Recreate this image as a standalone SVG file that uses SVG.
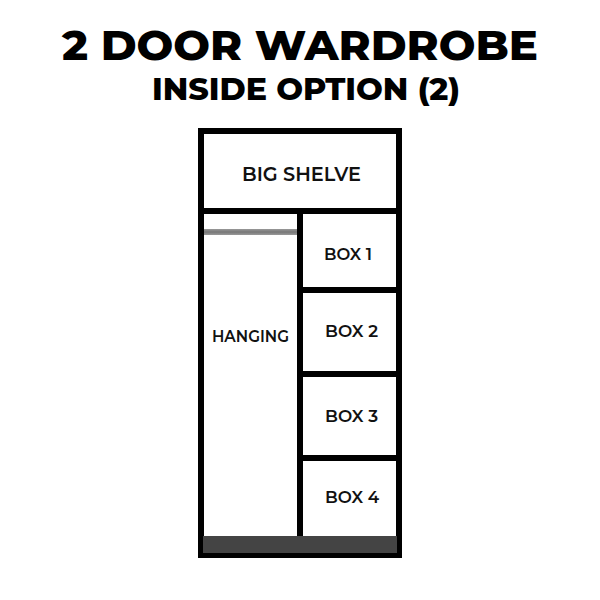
<svg xmlns="http://www.w3.org/2000/svg" width="600" height="600" viewBox="0 0 600 600">
<defs>
<linearGradient id="rail" x1="0" y1="0" x2="0" y2="1">
<stop offset="0" stop-color="#999"/><stop offset="0.5" stop-color="#777"/><stop offset="1" stop-color="#999"/>
</linearGradient>
<style>
.t{font-family:"Montserrat","Open Sans","Liberation Sans",sans-serif;font-weight:800;fill:#000;text-anchor:middle}
.l{font-family:"Montserrat","Open Sans","Liberation Sans",sans-serif;font-weight:600;fill:#111;text-anchor:middle}
.w{fill:none;stroke:#000;stroke-width:6}
</style>
</defs>
<rect width="600" height="600" fill="#fff"/>
<text class="t" x="300" y="60" font-size="42" textLength="476" lengthAdjust="spacingAndGlyphs">2 DOOR WARDROBE</text>
<text class="t" x="306" y="100" font-size="30" textLength="308" lengthAdjust="spacingAndGlyphs">INSIDE OPTION (2)</text>
<g id="frame">
<rect class="w" x="201" y="131" width="198" height="424"/>
<rect x="203" y="536" width="194" height="17" fill="#444"/>
</g>
<g id="dividers">
<line class="w" x1="203" y1="211" x2="397" y2="211"/>
<line class="w" x1="300" y1="211" x2="300" y2="536"/>
<line class="w" x1="300" y1="290" x2="397" y2="290"/>
<line class="w" x1="300" y1="374" x2="397" y2="374"/>
<line class="w" x1="300" y1="458" x2="397" y2="458"/>
</g>
<g id="big-shelve"><text class="l" x="301.5" y="181" font-size="19.5" textLength="119" lengthAdjust="spacingAndGlyphs">BIG SHELVE</text></g>
<g id="hanging">
<rect x="204" y="229" width="93" height="6" fill="url(#rail)"/>
<text class="l" x="250.5" y="342" font-size="16.5" textLength="77" lengthAdjust="spacingAndGlyphs">HANGING</text>
</g>
<g id="box1"><text class="l" x="348" y="260" font-size="17" textLength="48" lengthAdjust="spacingAndGlyphs">BOX 1</text></g>
<g id="box2"><text class="l" x="351.5" y="337" font-size="17" textLength="53" lengthAdjust="spacingAndGlyphs">BOX 2</text></g>
<g id="box3"><text class="l" x="351.5" y="422" font-size="17" textLength="53" lengthAdjust="spacingAndGlyphs">BOX 3</text></g>
<g id="box4"><text class="l" x="352" y="503" font-size="17" textLength="54" lengthAdjust="spacingAndGlyphs">BOX 4</text></g>
</svg>
